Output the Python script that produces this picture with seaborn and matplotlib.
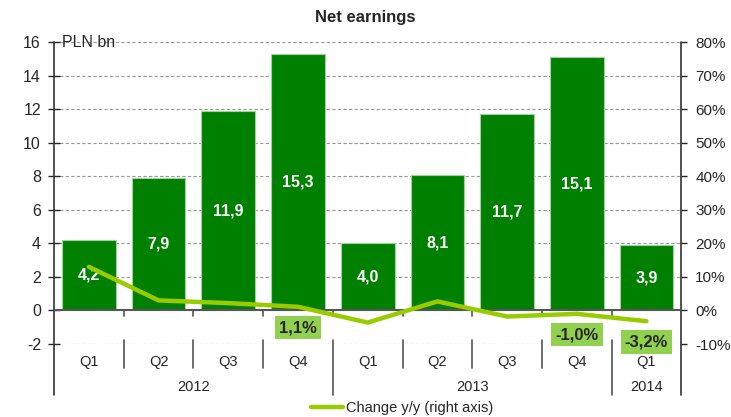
import pandas as pd
import matplotlib.pyplot as plt
import seaborn as sns

# quarterly net earnings, PLN bn
quarters = ["Q1", "Q2", "Q3", "Q4", "Q1", "Q2", "Q3", "Q4", "Q1"]
years = ["2012", "2012", "2012", "2012", "2013", "2013", "2013", "2013", "2014"]
earnings = [4.2, 7.9, 11.9, 15.3, 4.0, 8.1, 11.7, 15.1, 3.9]
# change y/y, %
change_yy = [13.0, 3.0, 2.2, 1.1, -3.6, 2.7, -1.8, -1.0, -3.2]
labelled_points = [3, 7, 8]

df = pd.DataFrame({"quarter": quarters, "year": years,
                   "earnings": earnings, "change": change_yy})
df["period"] = df["quarter"] + " " + df["year"]
df["pos"] = range(len(df))

sns.set_style("white")
plt.rcParams["font.family"] = ["Liberation Sans", "DejaVu Sans"]
plt.rcParams["axes.unicode_minus"] = False

bar_green = "#008000"
line_green = "#99CC00"
box_green = "#92D050"

fig = plt.figure(figsize=(7.31, 4.17), dpi=100)
ax = fig.add_axes([0.074, 0.175, 0.858, 0.724])

sns.barplot(data=df, x="period", y="earnings", order=list(df["period"]),
            color=bar_green, width=0.77, saturation=1, ax=ax, zorder=2,
            edgecolor="#9fd39f", linewidth=0.8)
ax.set_xlim(-0.5, len(df) - 0.5)
ax.set_ylim(-2, 16)
ax.set_yticks(range(-2, 17, 2))
ax.set_xlabel("")
ax.set_ylabel("")
ax.set_xticks([])
ax.tick_params(axis="y", labelsize=11.5, direction="inout", length=9, width=1, pad=5)
for y in range(-2, 17, 2):
    if y != 0:
        ax.axhline(y, color="#999999", lw=0.8, ls=(0, (3, 2)), zorder=0)
ax.axhline(0, color="#555555", lw=1.5, zorder=3)
for s in ["top", "right", "bottom", "left"]:
    ax.spines[s].set_visible(False)

# bar value labels
for i, v in enumerate(earnings):
    ax.text(i, v / 2, f"{v:.1f}".replace(".", ","), ha="center", va="center",
            color="white", fontsize=11.5, fontweight="bold", zorder=5)

ax.text(-0.38, 16, "PLN bn", ha="left", va="center", fontsize=11.5)

# right axis with the y/y change line
ax2 = ax.twinx()
ax2.set_ylim(-10, 80)
ax2.set_yticks(range(-10, 81, 10))
ax2.set_yticklabels([f"{t}%" for t in range(-10, 81, 10)])
ax2.tick_params(axis="y", labelsize=11, direction="out", length=4, width=1, pad=6)
for s in ["top", "right", "bottom", "left"]:
    ax2.spines[s].set_visible(False)
sns.lineplot(data=df, x="pos", y="change", color=line_green, lw=3.2, ax=ax2,
             label="Change y/y (right axis)", legend=False, zorder=4)
ax2.set_xlabel("")
ax2.set_ylabel("")
ax2.set_xlim(-0.5, len(df) - 0.5)

for i in labelled_points:
    ax2.annotate(f"{change_yy[i]:.1f}%".replace(".", ","), (i, change_yy[i]),
                 xytext=(0, -15), textcoords="offset points", ha="center", va="center",
                 fontsize=12, fontweight="bold",
                 bbox=dict(boxstyle="square,pad=0.25", fc=box_green, ec="none"),
                 zorder=6)

# category axis below the plot
axis_col = "#333333"
ax.plot([-0.5, -0.5], [16, -5.05], color=axis_col, lw=1.2, clip_on=False)
ax.plot([8.5, 8.5], [16, -5.05], color=axis_col, lw=1.2, clip_on=False)
for b in [0.5, 1.5, 2.5, 4.5, 5.5, 6.5]:
    ax.plot([b, b], [-1.75, -3.45], color="#555555", lw=1.2, clip_on=False)
for b in [3.5, 7.5]:
    ax.plot([b, b], [-1.75, -5.05], color="#555555", lw=1.2, clip_on=False)
for b in [0.5, 1.5, 2.5, 3.5, 4.5, 5.5, 6.5, 7.5]:
    ax.plot([b, b], [0, -0.35], color="#555555", lw=1.2, zorder=3)
for i, q in enumerate(quarters):
    ax.text(i, -3.05, q, ha="center", va="center", fontsize=10.5, clip_on=False)
for yr in dict.fromkeys(years):
    idx = [i for i, y in enumerate(years) if y == yr]
    ax.text(sum(idx) / len(idx), -4.55, yr, ha="center", va="center",
            fontsize=10.5, clip_on=False)

fig.text(0.499, 0.958, "Net earnings", ha="center", va="center",
         fontsize=12, fontweight="bold")
fig.legend(handles=ax2.get_lines()[:1], loc="center", bbox_to_anchor=(0.55, 0.022),
           frameon=False, fontsize=10.5, handlelength=2.2, handletextpad=0.2)

fig.savefig("out.png", dpi=100)
